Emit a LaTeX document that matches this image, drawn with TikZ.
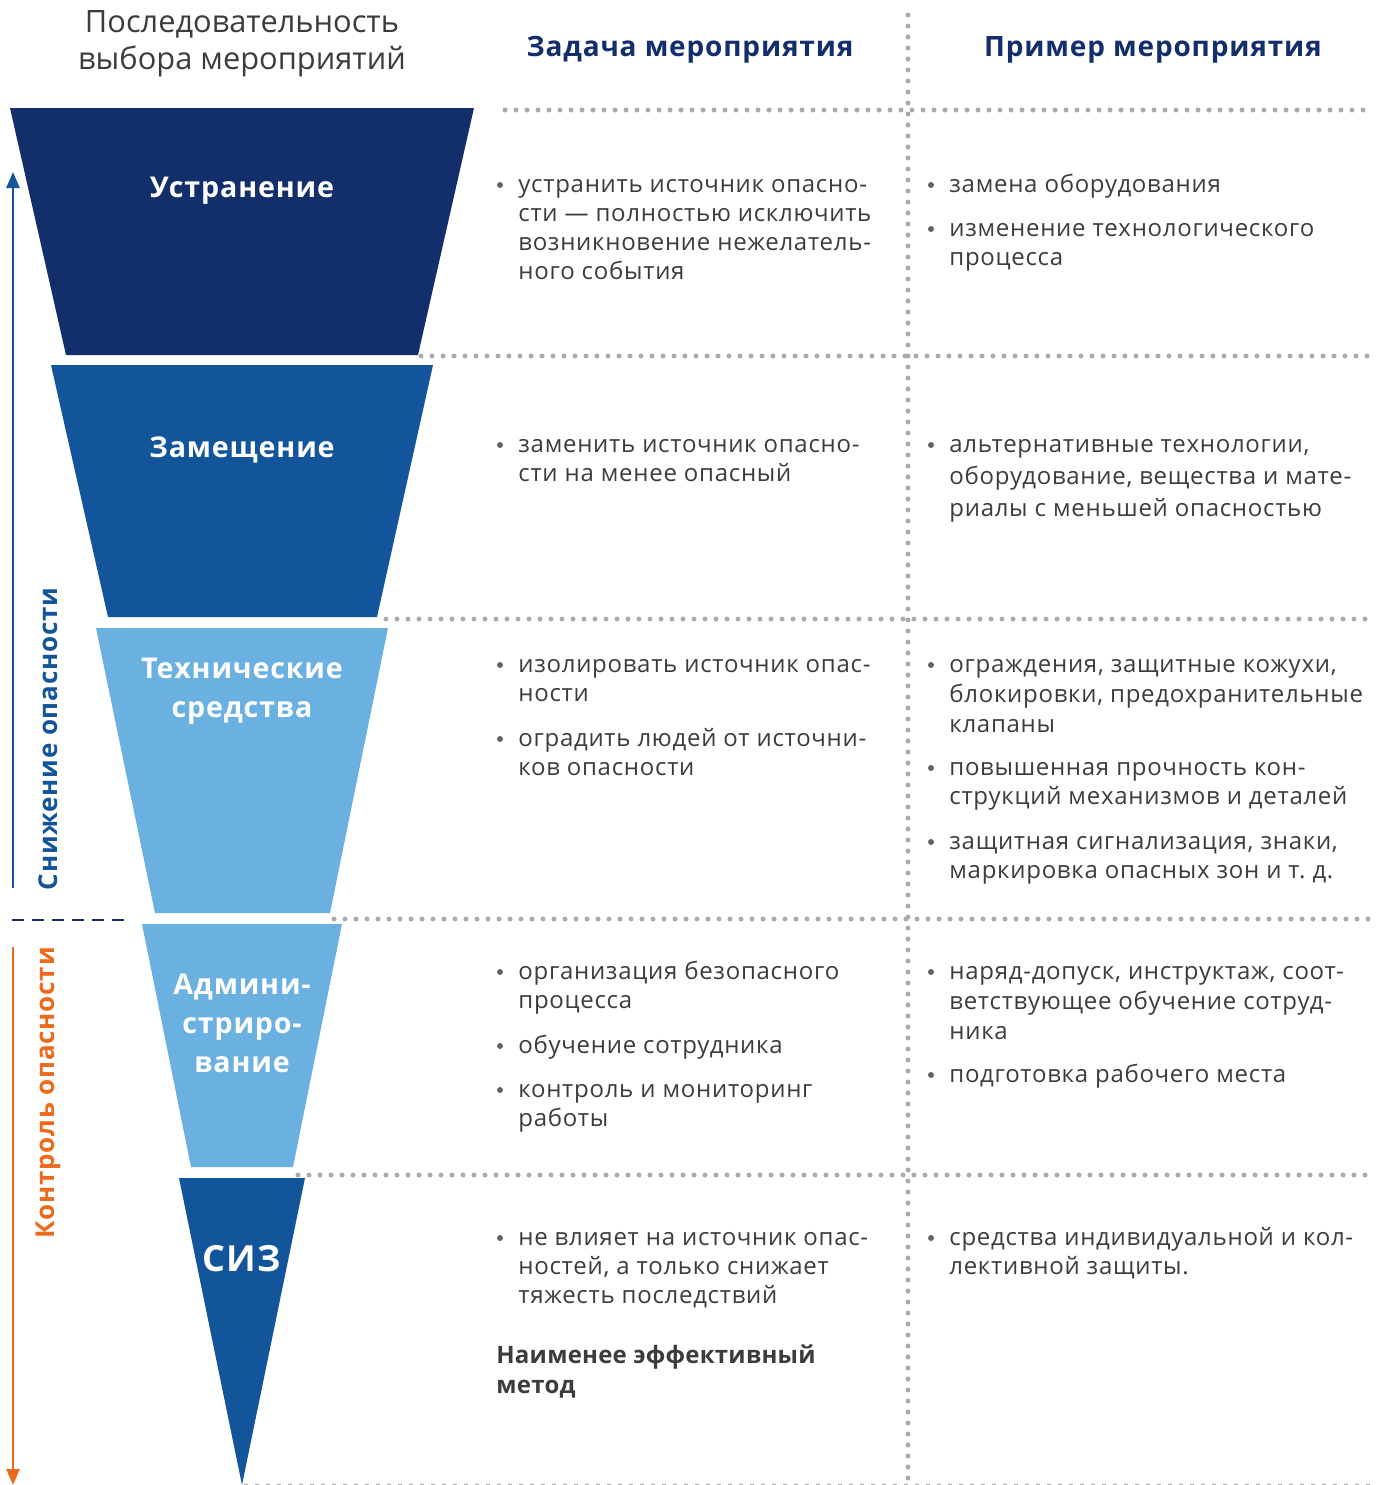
\documentclass[tikz,border=0pt]{standalone}
\usepackage{fontspec}
\setmainfont{Open Sans}[LetterSpace=3]
\usetikzlibrary{arrows.meta,positioning}

\definecolor{navy}{HTML}{132F6B}
\definecolor{midblue}{HTML}{12559A}
\definecolor{lightblue}{HTML}{6AB0E0}
\definecolor{orng}{HTML}{EC6A1C}
\definecolor{dotgray}{HTML}{ABABAB}
\definecolor{txtgray}{HTML}{3C3C3C}

\begin{document}
\begin{tikzpicture}[x=0.5pt,y=-0.5pt,>={Triangle[length=8pt,width=6.5pt]},
    dotline/.style={draw=dotgray,line width=2.5pt,line cap=round,dash pattern=on 0pt off 5.5pt},
    lvl/.style={text=white,font=\fontsize{14.3}{19.5}\selectfont\bfseries,align=center},
    head/.style={text=navy,font=\fontsize{14}{17}\selectfont\bfseries},
    item/.style={anchor=base west,inner sep=0pt,align=left,text=txtgray,font=\fontsize{12}{14.5}\selectfont},
    side/.style={rotate=90,font=\fontsize{13}{15}\selectfont\bfseries}]
      \useasboundingbox (0,0) rectangle (1386,1485);

      % funnel
      \fill[navy] (10,108) -- (474,108) -- (418,355) -- (66,355) -- cycle;
      \fill[midblue] (51,365) -- (433,365) -- (377,617) -- (108,617) -- cycle;
      \fill[lightblue] (96,628) -- (388,628) -- (330,913) -- (155,913) -- cycle;
      \fill[lightblue] (142,924) -- (342,924) -- (293,1167) -- (191,1167) -- cycle;
      \fill[midblue] (179,1178) -- (305,1178) -- (242,1485) -- cycle;

      \node[lvl] (Elim) at (242,191) {Устранение};
      \node[lvl] (Subst) at (242,450) {Замещение};
      \node[lvl] (Tech) at (242,691) {Технические\\средства};
      \node[lvl] (Admin) at (242,1023) {Админи-\\стриро-\\вание};
      \node[lvl,font=\fontsize{18}{20}\selectfont\bfseries] (PPE) at (242,1259) {СИЗ};

      % headings
      \node[align=center,text=txtgray,font=\fontsize{15.4}{18.5}\selectfont\addfontfeature{LetterSpace=0}] (Seq) at (242,44)
        {Последовательность\\выбора мероприятий};
      \node[head] (TaskHead) at (690,50) {Задача мероприятия};
      \node[head] (ExHead) at (1153,50) {Пример мероприятия};

      % grid
      \draw[dotline] (908,15) -- (908,1482);
      \draw[dotline] (505,110) -- (1368,110);
      \draw[dotline] (421,356) -- (1368,356);
      \draw[dotline] (386,619) -- (1368,619);
      \draw[dotline] (334,919) -- (1368,919);
      \draw[dotline] (298,1175) -- (1368,1175);
      \draw[dotline] (246,1486) -- (1368,1486);

      % side arrows
      \coordinate (UpS) at (13,888);
      \coordinate (UpE) at (13,172);
      \coordinate (DnS) at (13,947);
      \coordinate (DnE) at (13,1485);
      \coordinate (SepS) at (12,920);
      \coordinate (SepE) at (128,920);
      \draw[->,midblue,line width=1.25pt] (UpS) -- (UpE);
      \draw[->,orng,line width=1.25pt] (DnS) -- (DnE);
      \draw[navy,line width=1.25pt,dash pattern=on 6pt off 4pt] (SepS) -- (SepE);
      \node[side,text=midblue] (Reduce) at (48,739) {Снижение опасности};
      \node[side,text=orng] (Control) at (48,1093) {Контроль опасности};

      % bullets
      \foreach \y in {185,445,665,739,972,1046,1090,1238}
        \fill[txtgray!80] (500,\y) circle (3);
      \foreach \y in {185,229,445,665,768,842,972,1075,1238}
        \fill[txtgray!80] (931,\y) circle (3);

      % task column (anchored at last baseline)
      \node[item] (T1) at (518,279) {устранить источник опасно-\\сти — полностью исключить\\возникновение нежелатель-\\ного события};
      \node[item] (T2) at (518,481) {заменить источник опасно-\\сти на менее опасный};
      \node[item] (T3a) at (518,701) {изолировать источник опас-\\ности};
      \node[item] (T3b) at (518,775) {оградить людей от источни-\\ков опасности};
      \node[item] (T4a) at (518,1008) {организация безопасного\\процесса};
      \node[item] (T4b) at (518,1053) {обучение сотрудника};
      \node[item] (T4c) at (518,1126) {контроль и мониторинг\\работы};
      \node[item] (T5) at (518,1303) {не влияет на источник опас-\\ностей, а только снижает\\тяжесть последствий};
      \node[item,font=\fontsize{12}{15}\selectfont\bfseries\addfontfeature{LetterSpace=1}] (Least) at (496,1393) {Наименее эффективный\\метод};

      % example column
      \node[item] (E1a) at (949,192) {замена оборудования};
      \node[item] (E1b) at (949,265) {изменение технологического\\процесса};
      \node[item,font=\fontsize{12}{16}\selectfont] (E2) at (949,516) {альтернативные технологии,\\оборудование, вещества и мате-\\риалы с меньшей опасностью};
      \node[item,font=\fontsize{12}{15}\selectfont] (E3a) at (949,732) {ограждения, защитные кожухи,\\блокировки, предохранительные\\клапаны};
      \node[item] (E3b) at (949,804) {повышенная прочность кон-\\струкций механизмов и деталей};
      \node[item] (E3c) at (949,878) {защитная сигнализация, знаки,\\маркировка опасных зон и т.~д.};
      \node[item,font=\fontsize{12}{15}\selectfont] (E4a) at (949,1039) {наряд-допуск, инструктаж, соот-\\ветствующее обучение сотруд-\\ника};
      \node[item] (E4b) at (949,1082) {подготовка рабочего места};
      \node[item] (E5) at (949,1274) {средства индивидуальной и кол-\\лективной защиты.};
\end{tikzpicture}
\end{document}
